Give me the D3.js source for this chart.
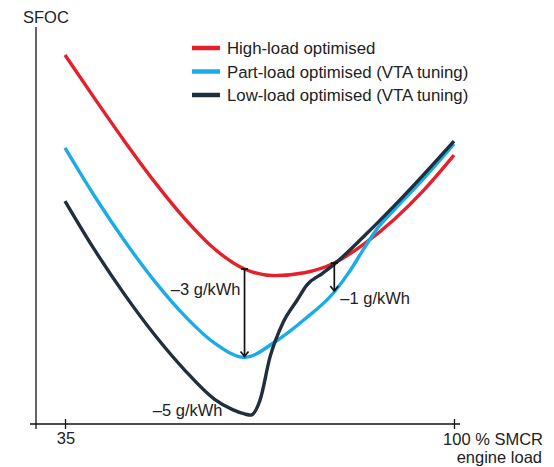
<!DOCTYPE html>
<html>
<head>
<meta charset="utf-8">
<script src="https://cdn.jsdelivr.net/npm/d3@7"></script>
<style>
  html, body { margin: 0; padding: 0; background: #fff; }
  svg { display: block; }
  text { font-family: "Liberation Sans", Arial, Helvetica, sans-serif; fill: #222; }
</style>
</head>
<body>
<svg id="chart" width="554" height="467"></svg>
<script>
// ---- Data (engine load % SMCR vs relative SFOC, g/kWh) ----
const seriesNames = ["High-load optimised", "Part-load optimised (VTA tuning)", "Low-load optimised (VTA tuning)"];
const highLoad = [
  [35, 12.86], [40, 11.33], [45, 9.84], [50, 8.43], [55, 7.16], [60, 6.10],
  [65, 5.40], [70, 5.17], [75, 5.27], [80, 5.61], [85, 6.28], [90, 7.13],
  [95, 8.16], [100, 9.37]
];
const partLoad = [
  [35, 9.62], [40, 7.92], [45, 6.37], [50, 4.97], [55, 3.77], [60, 2.82],
  [65, 2.32], [70, 2.85], [75, 3.64], [80, 4.60], [82.5, 5.30], [85, 6.13],
  [87, 6.76], [90, 7.46], [95, 8.57], [100, 9.76]
];
const lowLoad = [
  [35, 7.77], [40, 6.05], [45, 4.50], [50, 3.10], [55, 1.88], [60, 0.86],
  [63, 0.50], [65, 0.35], [66, 0.31], [67.6, 0.84], [69.25, 2.33], [71.4, 3.52],
  [73.8, 4.32], [75.4, 4.84], [78.1, 5.26], [80, 5.57], [85, 6.55], [90, 7.60],
  [95, 8.71], [100, 9.86]
];
const xTickValues = [35, 100];
const xTickLabels = ["35", "100 % SMCR"];
const xAxisTitle = "engine load";
const yAxisTitle = "SFOC";
const savings = [
  { load: 65, from: "high", to: "part", label: "\u20133 g/kWh", arrow: true },
  { load: 65, from: "high", to: "low", label: "\u20135 g/kWh", arrow: false },
  { load: 80, from: "high", to: "part", label: "\u20131 g/kWh", arrow: true }
];

// ---- Layout ----
const colors = { high: "#e5202b", part: "#19ace6", low: "#1f2f3d" };
const series = [
  { key: "high", name: seriesNames[0], data: highLoad },
  { key: "part", name: seriesNames[1], data: partLoad },
  { key: "low",  name: seriesNames[2], data: lowLoad }
];
const axisX = 36, axisY = 424, axisTop = 27, axisRight = 460;

const svg = d3.select("#chart");
const x = d3.scaleLinear().domain([35, 100]).range([65, 454]);
const y = d3.scaleLinear().domain([0, 13.8]).range([424, 28]);

const line = d3.line()
  .x(d => x(d[0]))
  .y(d => y(d[1]))
  .curve(d3.curveMonotoneX);

// Axes
svg.append("line")
  .attr("x1", axisX).attr("x2", axisX)
  .attr("y1", axisTop).attr("y2", axisY + 5)
  .attr("stroke", "#111").attr("stroke-width", 1.3);
svg.append("line")
  .attr("x1", axisX - 6).attr("x2", axisRight)
  .attr("y1", axisY).attr("y2", axisY)
  .attr("stroke", "#111").attr("stroke-width", 1.3);

const xAxis = d3.axisBottom(x).tickValues(xTickValues).tickSize(5).tickFormat("");
const gx = svg.append("g").attr("transform", `translate(0,${axisY})`).call(xAxis);
gx.select(".domain").remove();
gx.selectAll(".tick line").attr("y1", -5).attr("y2", 5).attr("stroke", "#111").attr("stroke-width", 1.3);

svg.append("text").attr("x", x(xTickValues[0]) + 1).attr("y", 444)
  .attr("text-anchor", "middle").attr("font-size", 16.5).text(xTickLabels[0]);
svg.append("text").attr("x", 543).attr("y", 445)
  .attr("text-anchor", "end").attr("font-size", 16.5).text(xTickLabels[1]);
svg.append("text").attr("x", 542).attr("y", 463)
  .attr("text-anchor", "end").attr("font-size", 16.5).text(xAxisTitle);

svg.append("text").attr("x", 23).attr("y", 23)
  .attr("font-size", 16.5).text(yAxisTitle);

// Curves
svg.selectAll("path.curve")
  .data(series)
  .join("path")
  .attr("class", "curve")
  .attr("d", d => line(d.data))
  .attr("fill", "none")
  .attr("stroke", d => colors[d.key])
  .attr("stroke-width", 3.4)
  .attr("stroke-linecap", "butt");

// Savings arrows
function valueAt(key, load) {
  const s = series.find(s => s.key === key).data;
  for (let i = 0; i < s.length - 1; i++) {
    if (load >= s[i][0] && load <= s[i + 1][0]) {
      const t = (load - s[i][0]) / (s[i + 1][0] - s[i][0]);
      return s[i][1] + t * (s[i + 1][1] - s[i][1]);
    }
  }
  return s[s.length - 1][1];
}

savings.filter(s => s.arrow).forEach(s => {
  const px = x(s.load);
  const y1 = y(valueAt(s.from, s.load));
  const y2 = y(valueAt(s.to, s.load));
  const g = svg.append("g").attr("stroke", "#111").attr("stroke-width", 1.7).attr("fill", "none");
  g.append("line").attr("x1", px).attr("x2", px).attr("y1", y1).attr("y2", y2 - 1);
  g.append("line").attr("x1", px - 3.5).attr("x2", px + 3.5).attr("y1", y1).attr("y2", y1);
  g.append("path").attr("d", `M${px - 4},${y2 - 6} L${px},${y2 - 1} L${px + 4},${y2 - 6}`);
});

// Labels for savings
svg.append("text").attr("x", x(65) - 4).attr("y", 295)
  .attr("text-anchor", "end").attr("font-size", 16.5).text(savings[0].label);
svg.append("text").attr("x", x(65) - 22).attr("y", 416)
  .attr("text-anchor", "end").attr("font-size", 16.5).text(savings[1].label);
svg.append("text").attr("x", x(80) + 6).attr("y", 304)
  .attr("text-anchor", "start").attr("font-size", 16.5).text(savings[2].label);

// Legend
const legend = svg.append("g");
series.forEach((s, i) => {
  const ly = 48 + i * 23.5;
  legend.append("line")
    .attr("x1", 192).attr("x2", 220).attr("y1", ly).attr("y2", ly)
    .attr("stroke", colors[s.key]).attr("stroke-width", 4.5);
  legend.append("text").attr("x", 227).attr("y", ly + 6)
    .attr("font-size", 16.8).text(s.name);
});
</script>
</body>
</html>
